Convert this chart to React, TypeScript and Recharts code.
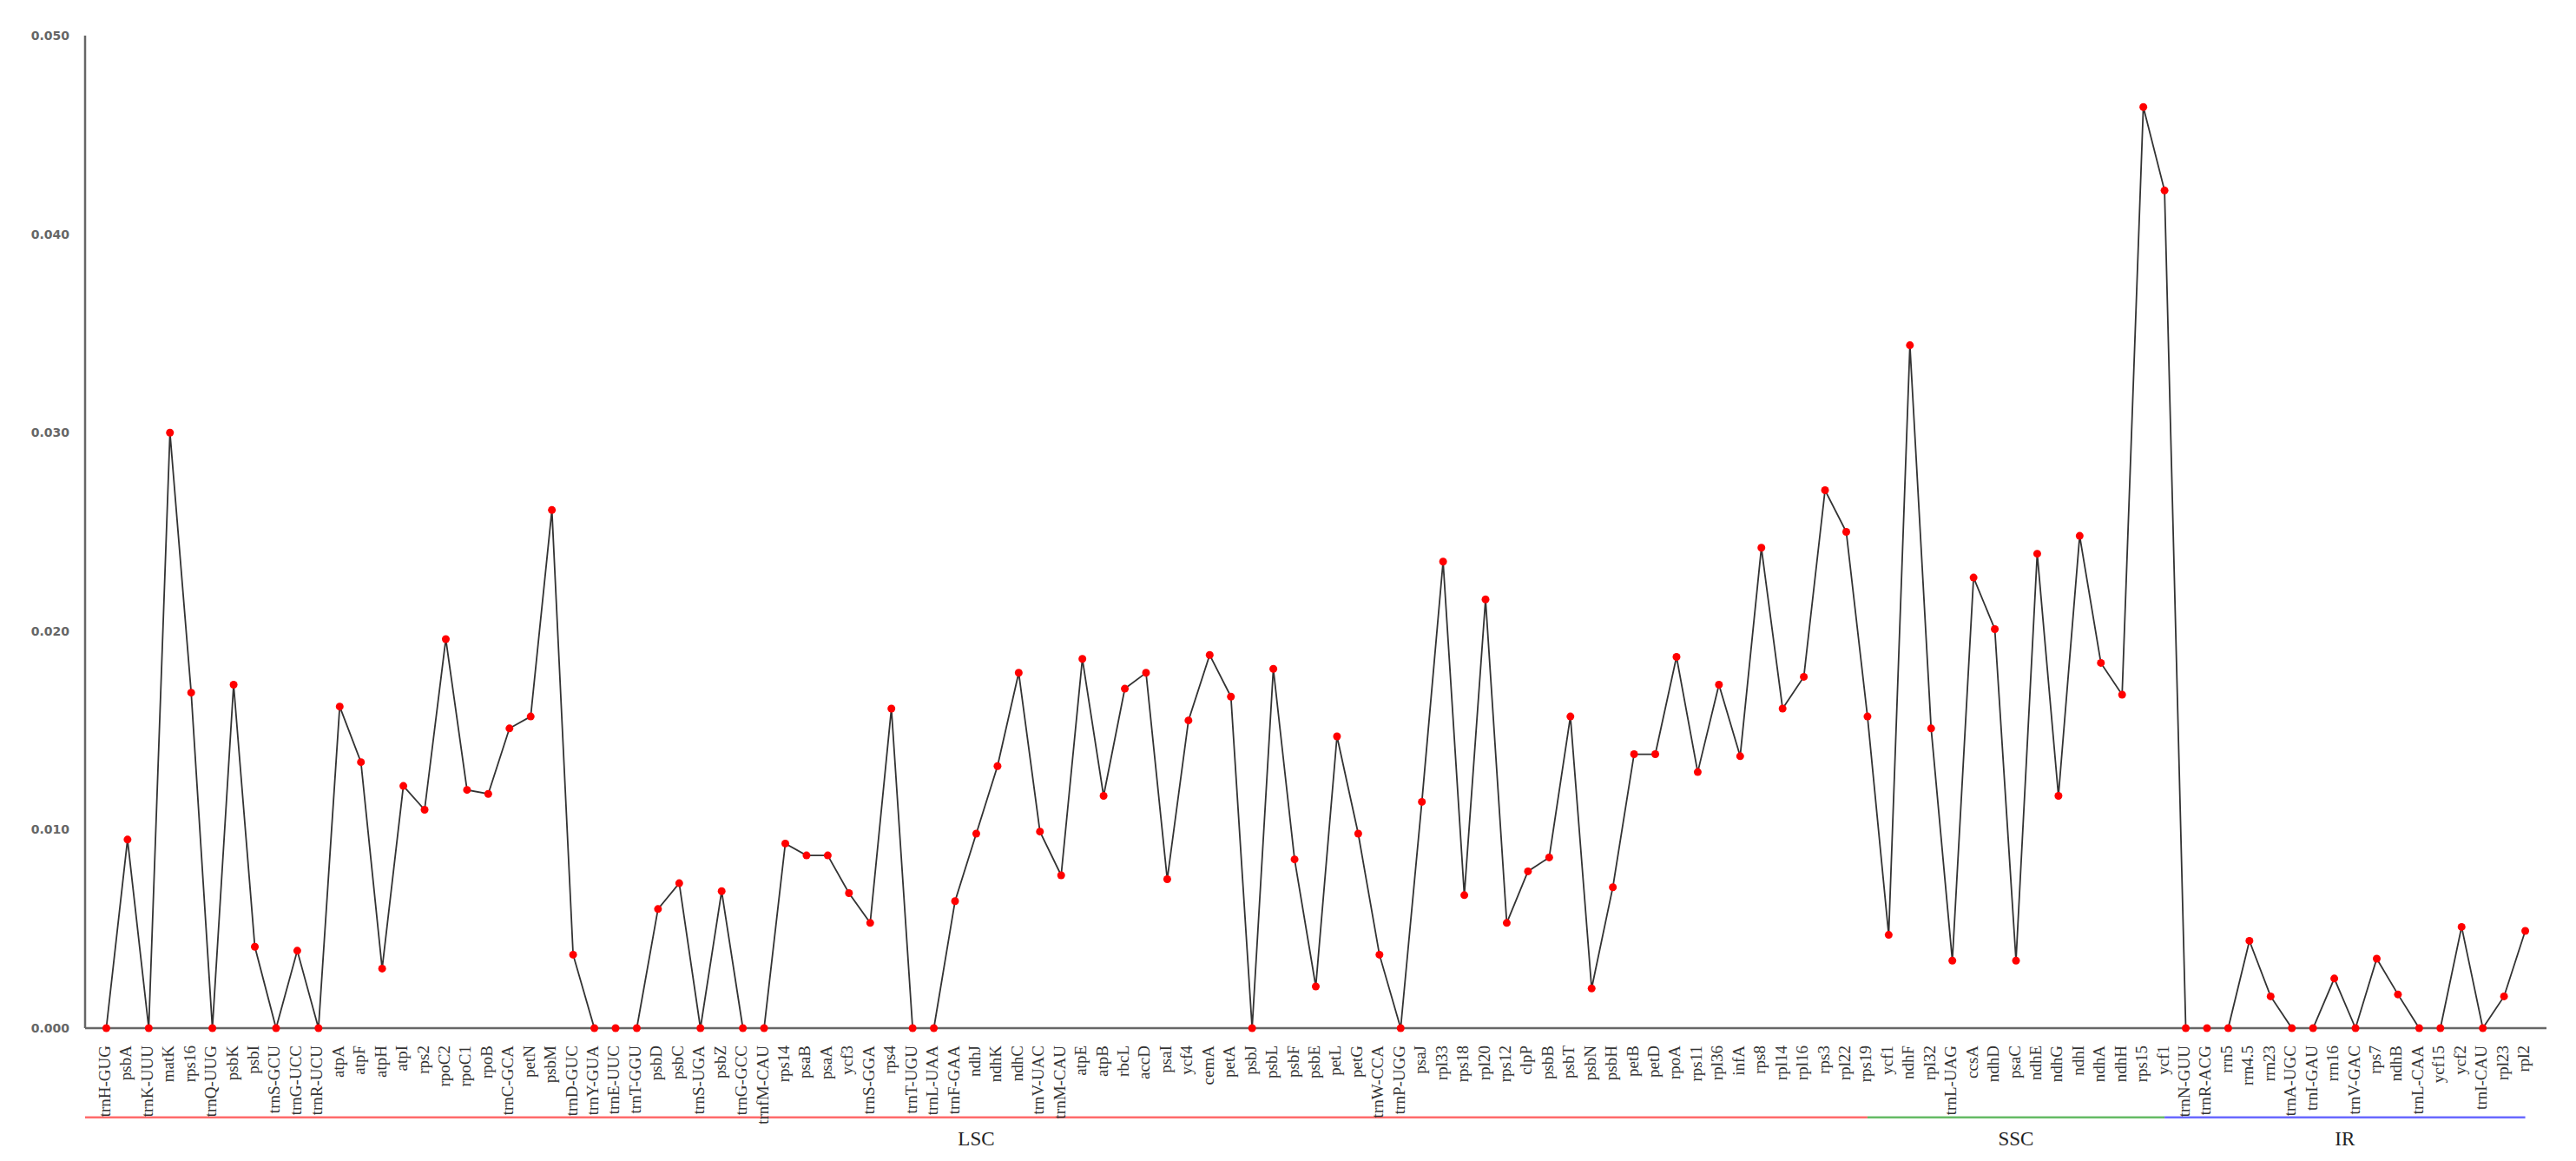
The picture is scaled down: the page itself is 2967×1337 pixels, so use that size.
import { LineChart, Line, XAxis, YAxis, ReferenceLine } from 'recharts';

const genes = [
  'trnH-GUG', 'psbA', 'trnK-UUU', 'matK', 'rps16', 'trnQ-UUG', 'psbK', 'psbI', 'trnS-GCU', 'trnG-UCC',
  'trnR-UCU', 'atpA', 'atpF', 'atpH', 'atpI', 'rps2', 'rpoC2', 'rpoC1', 'rpoB', 'trnC-GCA',
  'petN', 'psbM', 'trnD-GUC', 'trnY-GUA', 'trnE-UUC', 'trnT-GGU', 'psbD', 'psbC', 'trnS-UGA', 'psbZ',
  'trnG-GCC', 'trnfM-CAU', 'rps14', 'psaB', 'psaA', 'ycf3', 'trnS-GGA', 'rps4', 'trnT-UGU', 'trnL-UAA',
  'trnF-GAA', 'ndhJ', 'ndhK', 'ndhC', 'trnV-UAC', 'trnM-CAU', 'atpE', 'atpB', 'rbcL', 'accD',
  'psaI', 'ycf4', 'cemA', 'petA', 'psbJ', 'psbL', 'psbF', 'psbE', 'petL', 'petG',
  'trnW-CCA', 'trnP-UGG', 'psaJ', 'rpl33', 'rps18', 'rpl20', 'rps12', 'clpP', 'psbB', 'psbT',
  'psbN', 'psbH', 'petB', 'petD', 'rpoA', 'rps11', 'rpl36', 'infA', 'rps8', 'rpl14',
  'rpl16', 'rps3', 'rpl22', 'rps19', 'ycf1', 'ndhF', 'rpl32', 'trnL-UAG', 'ccsA', 'ndhD',
  'psaC', 'ndhE', 'ndhG', 'ndhI', 'ndhA', 'ndhH', 'rps15', 'ycf1', 'trnN-GUU', 'trnR-ACG',
  'rrn5', 'rrn4.5', 'rrn23', 'trnA-UGC', 'trnI-GAU', 'rrn16', 'trnV-GAC', 'rps7', 'ndhB', 'trnL-CAA',
  'ycf15', 'ycf2', 'trnI-CAU', 'rpl23', 'rpl2',
];

const pi = [
  0, 0.0095, 0, 0.0300, 0.0169, 0, 0.0173, 0.0041, 0, 0.0039,
  0, 0.0162, 0.0134, 0.0030, 0.0122, 0.0110, 0.0196, 0.0120, 0.0118, 0.0151,
  0.0157, 0.0261, 0.0037, 0, 0, 0, 0.0060, 0.0073, 0, 0.0069,
  0, 0, 0.0093, 0.0087, 0.0087, 0.0068, 0.0053, 0.0161, 0, 0,
  0.0064, 0.0098, 0.0132, 0.0179, 0.0099, 0.0077, 0.0186, 0.0117, 0.0171, 0.0179,
  0.0075, 0.0155, 0.0188, 0.0167, 0, 0.0181, 0.0085, 0.0021, 0.0147, 0.0098,
  0.0037, 0, 0.0114, 0.0235, 0.0067, 0.0216, 0.0053, 0.0079, 0.0086, 0.0157,
  0.0020, 0.0071, 0.0138, 0.0138, 0.0187, 0.0129, 0.0173, 0.0137, 0.0242, 0.0161,
  0.0177, 0.0271, 0.0250, 0.0157, 0.0047, 0.0344, 0.0151, 0.0034, 0.0227, 0.0201,
  0.0034, 0.0239, 0.0117, 0.0248, 0.0184, 0.0168, 0.0464, 0.0422, 0, 0,
  0, 0.0044, 0.0016, 0, 0, 0.0025, 0, 0.0035, 0.0017, 0,
  0, 0.0051, 0, 0.0016, 0.0049,
];

const yTicks = [0, 0.01, 0.02, 0.03, 0.04, 0.05];

// regions: [name, start index, end index, colour]
const regions: [string, number, number, string][] = [
  ['LSC', -1, 83, '#ff6b6b'],
  ['SSC', 83, 97, '#66bb66'],
  ['IR', 97, 114, '#6a6aff'],
];

const data = genes.map((g, i) => ({ i, gene: g, pi: pi[i] }));
const xTicks = genes.map((_g, i) => i);

const XTick = (props: any) => {
  const { x, y, payload } = props;
  return (
    <text
      transform={`translate(${x - 2},${y + 12}) rotate(-90)`}
      textAnchor="end"
      dominantBaseline="central"
      fontFamily="Liberation Serif"
      fontSize={19}
      fill="#333"
    >
      {genes[payload.value]}
    </text>
  );
};

export default function App() {
  return (
    <div style={{ position: 'absolute', left: 0, top: 0, background: '#fff' }}>
      <LineChart width={2967} height={1337} data={data} margin={{ top: 41, right: 34, left: 0, bottom: 0 }}>
        <XAxis
          dataKey="i"
          type="number"
          domain={[-1, 115]}
          ticks={xTicks}
          interval={0}
          height={153}
          tick={<XTick />}
          tickLine={false}
          axisLine={{ stroke: '#666', strokeWidth: 2.5 }}
        />
        <YAxis
          domain={[0, 0.05]}
          ticks={yTicks}
          width={98}
          tickFormatter={(v: number) => v.toFixed(3)}
          tick={{ fontSize: 14, fill: '#666', fontFamily: 'DejaVu Sans', fontWeight: 'bold' }}
          tickLine={false}
          tickSize={0}
          tickMargin={18}
          axisLine={{ stroke: '#666', strokeWidth: 2.5 }}
        />
        {regions.map(([name, a, b, color]) => (
          <ReferenceLine
            key={name}
            segment={[{ x: a, y: -0.0045 }, { x: b, y: -0.0045 }]}
            stroke={color}
            strokeWidth={2.5}
            ifOverflow="visible"
            label={{ value: name, position: 'bottom', offset: 16, fontSize: 23, fill: '#222', fontFamily: 'Liberation Serif' }}
          />
        ))}
        <Line
          dataKey="pi"
          stroke="#333"
          strokeWidth={1.8}
          isAnimationActive={false}
          dot={{ r: 4.5, fill: '#ff0000', stroke: 'none' }}
          activeDot={false}
        />
      </LineChart>
    </div>
  );
}
